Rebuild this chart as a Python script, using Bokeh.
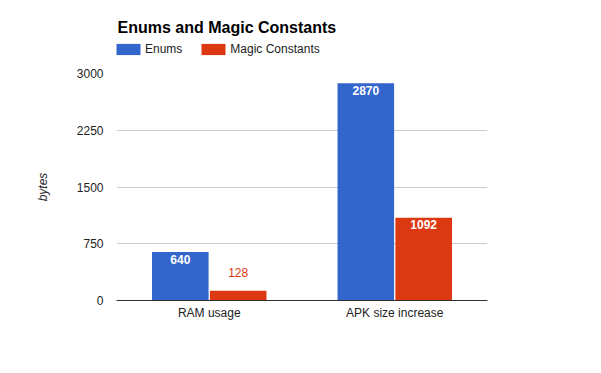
from bokeh.plotting import figure
from bokeh.layouts import column
from bokeh.models import (ColumnDataSource, FactorRange, Range1d, FixedTicker,
                          Legend, LegendItem, Label)
from bokeh.transform import dodge
from bokeh.embed import file_html
from bokeh.resources import INLINE

categories = ["RAM usage", "APK size increase"]
series = ["Enums", "Magic Constants"]
enums = [640, 2870]
magic = [128, 1092]
colors = ["#3366cc", "#dc3912"]
y_ticks = [0, 750, 1500, 2250, 3000]
y_max = 3000
title = "Enums and Magic Constants"

FONT = "Liberation Sans"
W = 601
HEAD_H = 63
MAIN_H = 310
BL, BR = 116, 114
FRAME_W = W - BL - BR

# ---------- header: title + legend ----------
head = figure(width=W, height=HEAD_H, x_range=Range1d(0, FRAME_W), y_range=Range1d(0, HEAD_H),
              output_backend="svg", toolbar_location=None,
              x_axis_location=None, y_axis_location=None,
              min_border_left=BL, min_border_right=BR, min_border_top=0, min_border_bottom=0)
head.outline_line_color = None
head.grid.grid_line_color = None
head.background_fill_color = "white"
head.border_fill_color = "white"

head.add_layout(Label(x=1, y=HEAD_H - 27, text=title,
                      text_font=FONT, text_font_size="16px", text_font_style="bold",
                      text_color="#000000", text_baseline="alphabetic", text_align="left"))

# legend proxies (zero-size, only used for the legend swatches)
d1 = head.vbar(x=[0], top=[0], width=0, fill_color=colors[0], line_color=None)
d2 = head.vbar(x=[0], top=[0], width=0, fill_color=colors[1], line_color=None)
legend = Legend(items=[LegendItem(label=series[0], renderers=[d1]),
                       LegendItem(label=series[1], renderers=[d2])],
                orientation="horizontal", location=(-3, 7.5),
                glyph_width=30, glyph_height=14, label_height=11,
                label_standoff=2, spacing=16, padding=0, margin=0,
                border_line_color=None, background_fill_alpha=0,
                label_text_font=FONT, label_text_font_size="12px",
                label_text_color="#222222")
head.add_layout(legend)

# ---------- main chart ----------
p = figure(width=W, height=MAIN_H,
           x_range=FactorRange(factors=categories, range_padding=0),
           y_range=Range1d(0, y_max),
           output_backend="svg", toolbar_location=None,
           min_border_left=BL, min_border_right=BR,
           min_border_top=10, min_border_bottom=73)
p.outline_line_color = None
p.background_fill_color = "white"
p.border_fill_color = "white"

src = ColumnDataSource(dict(cat=categories, enums=enums, magic=magic))
offs = [-0.156, 0.156]
p.vbar(x=dodge("cat", offs[0], range=p.x_range), top="enums", width=0.305,
       source=src, fill_color=colors[0], line_color=None)
p.vbar(x=dodge("cat", offs[1], range=p.x_range), top="magic", width=0.305,
       source=src, fill_color=colors[1], line_color=None)

# value labels: inside (white, bold) when the bar is tall enough, else above (series colour)
frame_h = MAIN_H - 10 - 73
for vals, col, off in [(enums, colors[0], offs[0]), (magic, colors[1], offs[1])]:
    inside = [v * frame_h / y_max >= 20 for v in vals]
    lsrc = ColumnDataSource(dict(
        cat=categories, val=vals, txt=[str(v) for v in vals],
        yo=[7 if i else -18 for i in inside],
        color=["white" if i else col for i in inside],
        style=["bold" if i else "normal" for i in inside]))
    p.text(x=dodge("cat", off, range=p.x_range), y="val", text="txt", source=lsrc,
           y_offset="yo", text_color="color", text_font_style="style",
           text_align="center", text_baseline="alphabetic",
           text_font={"value": FONT}, text_font_size={"value": "12px"})

# axes
p.yaxis.ticker = FixedTicker(ticks=y_ticks)
p.yaxis.axis_line_color = None
p.yaxis.major_tick_line_color = None
p.yaxis.major_tick_out = 0
p.yaxis.major_tick_in = 0
p.yaxis.minor_tick_line_color = None
p.yaxis.minor_tick_out = 0
p.yaxis.major_label_standoff = 13
p.yaxis.major_label_text_font = FONT
p.yaxis.major_label_text_font_size = "12px"
p.yaxis.major_label_text_color = "#222222"
p.yaxis.axis_label = "bytes"
p.yaxis.axis_label_text_font = FONT
p.yaxis.axis_label_text_font_size = "12px"
p.yaxis.axis_label_text_font_style = "italic"
p.yaxis.axis_label_text_color = "#222222"
p.yaxis.axis_label_standoff = 24

p.xaxis.axis_line_color = "#333333"
p.xaxis.major_tick_line_color = None
p.xaxis.major_tick_out = 0
p.xaxis.major_tick_in = 0
p.xaxis.minor_tick_line_color = None
p.xaxis.minor_tick_out = 0
p.xaxis.major_label_standoff = 5
p.xaxis.major_label_text_font = FONT
p.xaxis.major_label_text_font_size = "12px"
p.xaxis.major_label_text_color = "#222222"

p.xgrid.grid_line_color = None
p.ygrid.grid_line_color = "#cccccc"

layout = column(head, p, spacing=0)
open("out.html", "w").write(file_html(layout, INLINE))
